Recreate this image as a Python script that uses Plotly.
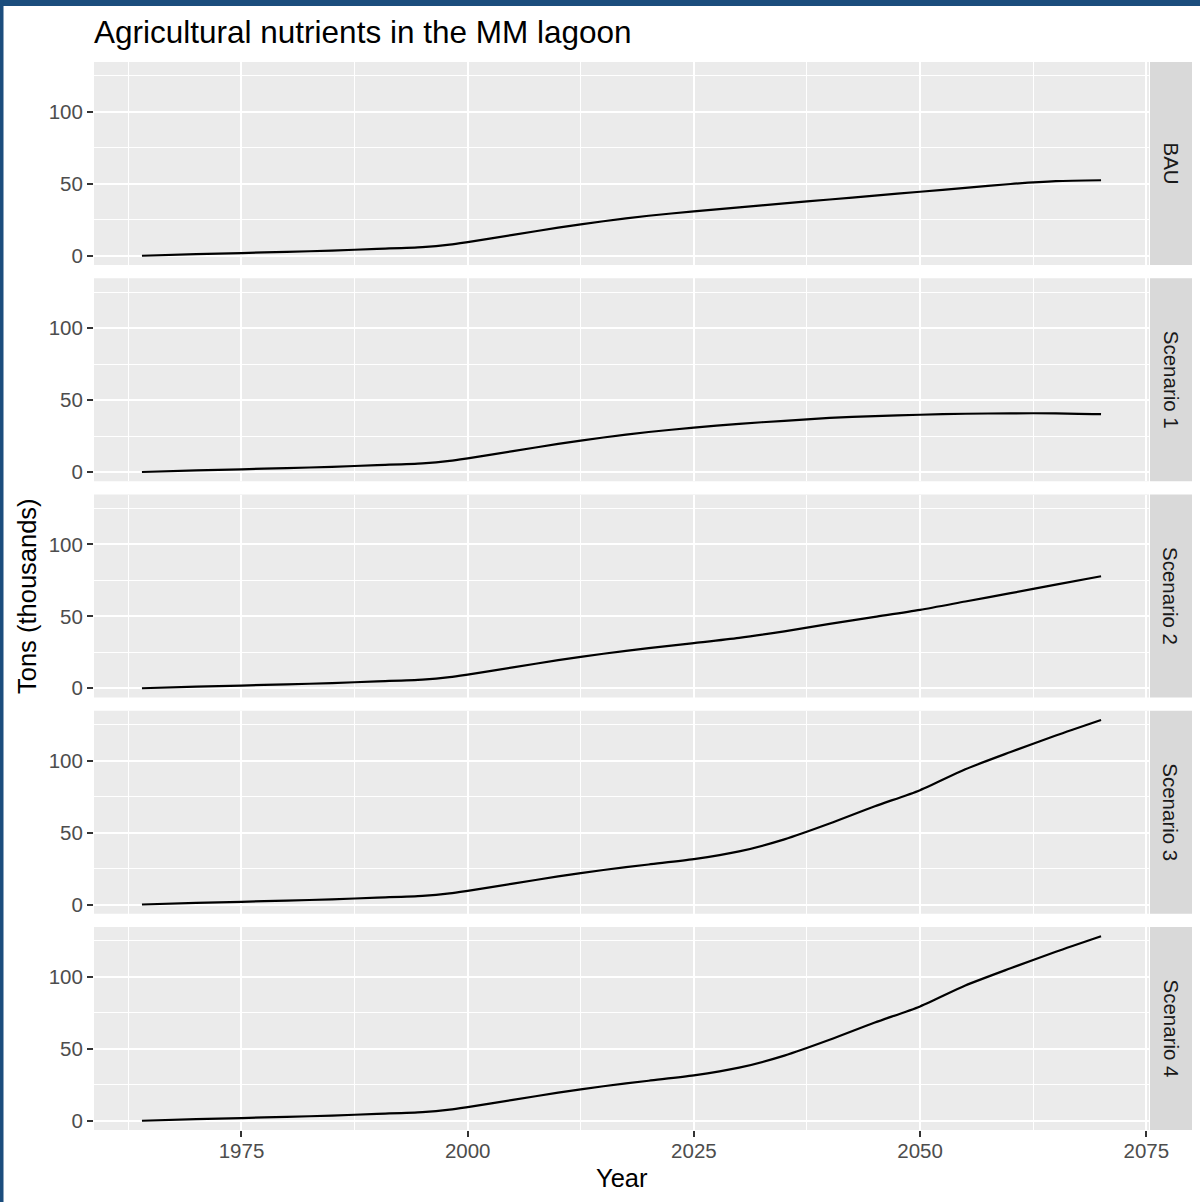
import plotly.graph_objects as go

# Nutrient load (thousand tons) per scenario
years = [1964, 1970, 1975, 1980, 1985, 1990, 1995, 1998, 2000, 2005, 2010, 2015,
         2020, 2025, 2030, 2035, 2040, 2045, 2050, 2055, 2060, 2065, 2070]

bau = [0, 1.1, 1.9, 2.7, 3.6, 4.8, 6.0, 7.7, 9.5, 14.5, 19.5, 24.0,
       27.8, 30.9, 33.6, 36.4, 39.1, 41.8, 44.5, 47.2, 49.9, 51.9, 52.5]
scenario_1 = [0, 1.1, 1.9, 2.7, 3.6, 4.8, 6.0, 7.7, 9.5, 14.5, 19.5, 24.0,
              27.8, 30.9, 33.5, 35.6, 37.6, 38.9, 39.8, 40.5, 40.8, 40.8, 40.2]
scenario_2 = [0, 1.1, 1.9, 2.7, 3.6, 4.8, 6.0, 7.7, 9.5, 14.5, 19.5, 24.0,
              27.9, 31.4, 35.0, 39.6, 44.7, 49.6, 54.5, 60.3, 66.1, 72.0, 77.9]
scenario_3 = [0, 1.1, 1.9, 2.7, 3.6, 4.8, 6.0, 7.7, 9.5, 14.5, 19.5, 24.0,
              27.8, 31.5, 36.9, 45.3, 56.3, 68.3, 79.5, 94.0, 106.0, 117.5, 128.3]
scenario_4 = [0, 1.1, 1.9, 2.7, 3.6, 4.8, 6.0, 7.7, 9.5, 14.5, 19.5, 24.0,
              27.8, 31.5, 36.9, 45.3, 56.3, 68.3, 79.5, 94.0, 106.0, 117.5, 128.3]

panel_labels = ["BAU", "Scenario 1", "Scenario 2", "Scenario 3", "Scenario 4"]
panel_values = [bau, scenario_1, scenario_2, scenario_3, scenario_4]

x_ticks = [1975, 2000, 2025, 2050, 2075]
x_minor = [1962.5, 1987.5, 2012.5, 2037.5, 2062.5]
y_ticks = [0, 50, 100]
y_minor = [25, 75, 125]

# Page geometry (pixels)
W, H = 1200, 1202
ML, MR, MT, MB = 94, 8, 62, 72
PW = W - ML - MR          # 1098
PH = H - MT - MB          # 1068
PANEL_RIGHT = 1149
STRIP_L, STRIP_R = 1150, 1192
PANEL_H = 203
PITCH = 216.25

FONT = "Liberation Sans, Arial, Helvetica, sans-serif"
TICK_SIZE = 20.5
AXIS_TITLE_SIZE = 25.5
TITLE_SIZE = 31.5


def px_x(p):
    return (p - ML) / PW


def px_y(p):
    return 1 - (p - MT) / PH


fig = go.Figure()
layout = dict(
    width=W, height=H, autosize=False,
    margin=dict(l=ML, r=MR, t=MT, b=MB, pad=0, autoexpand=False),
    paper_bgcolor="white",
    plot_bgcolor="#EBEBEB",
    showlegend=False,
    font=dict(family=FONT, color="#4D4D4D"),
)

shapes = []
annotations = []

xr = [1958.7, 2075.3]
yr = [-6.42, 134.7]

for i, (label, vals) in enumerate(zip(panel_labels, panel_values)):
    top = MT + i * PITCH
    bot = top + PANEL_H
    dom_y = [px_y(bot), px_y(top)]
    suffix = "" if i == 0 else str(i + 1)
    fig.add_trace(go.Scatter(
        x=years, y=vals, mode="lines",
        line=dict(color="black", width=2.2, shape="spline", smoothing=0.7),
        xaxis="x" + suffix, yaxis="y" + suffix,
        hoverinfo="x+y",
    ))
    last = i == len(panel_labels) - 1
    layout["xaxis" + suffix] = dict(
        domain=[0, px_x(PANEL_RIGHT)],
        range=xr, anchor="y" + suffix, automargin=False,
        tickvals=x_ticks, ticktext=[str(t) for t in x_ticks],
        showticklabels=last,
        ticks="outside" if last else "",
        ticklen=6, tickwidth=2, tickcolor="#333333",
        ticklabelstandoff=-4,
        tickfont=dict(size=TICK_SIZE, color="#4D4D4D", family=FONT),
        showgrid=True, gridcolor="white", gridwidth=2,
        minor=dict(tickvals=x_minor, showgrid=True, gridcolor="white", gridwidth=1),
        zeroline=False, showline=False,
    )
    if i > 0:
        layout["xaxis" + suffix]["matches"] = "x"
    layout["yaxis" + suffix] = dict(
        domain=dom_y, range=yr, anchor="x" + suffix, automargin=False,
        tickvals=y_ticks, ticktext=[str(t) for t in y_ticks],
        ticks="outside", ticklen=6, tickwidth=2, tickcolor="#333333",
        tickfont=dict(size=TICK_SIZE, color="#4D4D4D", family=FONT),
        showgrid=True, gridcolor="white", gridwidth=2,
        minor=dict(tickvals=y_minor, showgrid=True, gridcolor="white", gridwidth=1),
        zeroline=False, showline=False,
    )
    # facet strip on the right
    shapes.append(dict(
        type="rect", xref="paper", yref="paper",
        x0=px_x(STRIP_L), x1=px_x(STRIP_R), y0=dom_y[0], y1=dom_y[1],
        fillcolor="#D9D9D9", line=dict(width=0), layer="below",
    ))
    annotations.append(dict(
        text=label, xref="paper", yref="paper",
        x=px_x((STRIP_L + STRIP_R) / 2), y=(dom_y[0] + dom_y[1]) / 2,
        xanchor="center", yanchor="middle", showarrow=False, textangle=90,
        font=dict(size=TICK_SIZE, color="#1A1A1A", family=FONT),
    ))

# Chart title
annotations.append(dict(
    text="Agricultural nutrients in the MM lagoon", xref="paper", yref="paper",
    x=px_x(92), y=px_y(32), xanchor="left", yanchor="middle", showarrow=False,
    font=dict(size=TITLE_SIZE, color="black", family=FONT),
))
# Axis titles
annotations.append(dict(
    text="Tons (thousands)", xref="paper", yref="paper",
    x=px_x(27), y=px_y((MT + MT + 4 * PITCH + PANEL_H) / 2),
    xanchor="center", yanchor="middle", showarrow=False, textangle=-90,
    font=dict(size=AXIS_TITLE_SIZE, color="black", family=FONT),
))
annotations.append(dict(
    text="Year", xref="paper", yref="paper",
    x=px_x((ML + PANEL_RIGHT) / 2), y=px_y(1178),
    xanchor="center", yanchor="middle", showarrow=False,
    font=dict(size=AXIS_TITLE_SIZE, color="black", family=FONT),
))

# Frame along the top and left edges
shapes.append(dict(type="rect", xref="paper", yref="paper",
                   x0=px_x(0), x1=px_x(W), y0=px_y(6), y1=px_y(0),
                   fillcolor="#1B4D7D", line=dict(width=0), layer="above"))
shapes.append(dict(type="rect", xref="paper", yref="paper",
                   x0=px_x(0), x1=px_x(3.5), y0=px_y(H), y1=px_y(0),
                   fillcolor="#1B4D7D", line=dict(width=0), layer="above"))

layout["shapes"] = shapes
layout["annotations"] = annotations
fig.update_layout(**layout)

fig.write_html(
    "out.html",
    config={"responsive": False},
    post_script="document.body.style.margin='0';document.body.style.overflow='hidden';",
)
